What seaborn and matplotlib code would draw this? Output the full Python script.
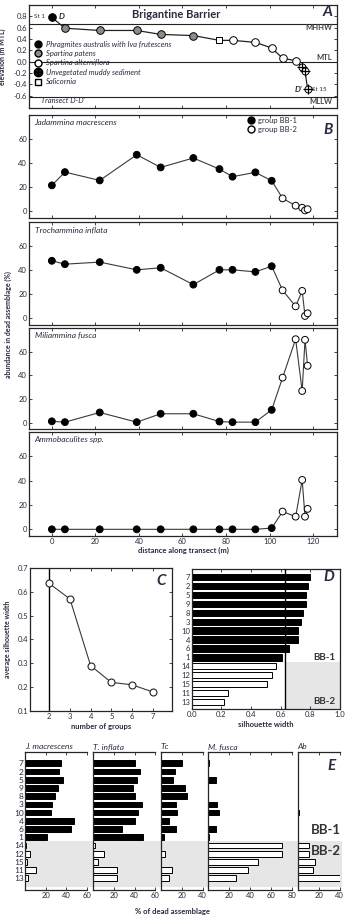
import numpy as np
import pandas as pd
import matplotlib
matplotlib.use("Agg")
import matplotlib.pyplot as plt
import seaborn as sns
from matplotlib.lines import Line2D
from matplotlib.patches import Rectangle

# ---------------- data ----------------
stations = list(range(1, 16))
distance = [0, 6, 22, 39, 50, 65, 77, 83, 93.5, 101, 106, 112, 115, 116.3, 117.5]
elevation = [0.78, 0.59, 0.55, 0.55, 0.48, 0.46, 0.375, 0.375, 0.34, 0.24,
             0.06, 0.015, -0.09, -0.16, -0.49]
vegetation = ["Phragmites", "patens", "patens", "patens", "patens", "patens",
              "Salicornia", "alterniflora", "alterniflora", "alterniflora",
              "alterniflora", "alterniflora", "mud", "mud", "mud"]
group = ["BB-1"] * 10 + ["BB-2"] * 5

j_macrescens = [21.6, 32.6, 25.7, 47, 36.5, 44.3, 35.1, 28.8, 32.4, 25.4, 10.8, 4.7, 3.0, 0.8, 1.8]
t_inflata = [47.8, 45, 46.7, 40.3, 42, 28, 40.3, 40.3, 38.6, 43.3, 23.3, 10, 22.8, 2.0, 4.2]
t_comprimata = [2.9, 13.3, 14.6, 8.1, 12, 14.6, 19.8, 25, 23.4, 15.9, 10.7, 4.2, 8.1, 0, 0]
m_fusca = [1, 0.3, 8.5, 0.3, 7.4, 7.4, 0.8, 0.3, 0.3, 10.7, 38, 70.5, 26.7, 70, 48]
ammobaculites = [0, 0, 0, 0, 0, 0, 0, 0, 0, 1, 14.6, 10.4, 40.6, 10.4, 16.8]

n_groups = [2, 3, 4, 5, 6, 7]
avg_silhouette = [0.635, 0.57, 0.29, 0.22, 0.21, 0.18]
silhouette = [0.607, 0.786, 0.737, 0.719, 0.771, 0.658, 0.80, 0.753, 0.771, 0.719,
              0.243, 0.539, 0.216, 0.566, 0.506]
row_order = [7, 2, 5, 9, 8, 3, 10, 4, 6, 1, 14, 12, 15, 11, 13]

tide_names = ["MHHW", "MTL", "MLLW"]
tide_levels = [0.67, 0.0, -0.62]

# ---------------- style ----------------
sns.set_style("ticks")
plt.rcParams["font.family"] = ["Lato", "DejaVu Sans"]
TXT = "#2a2a40"
GREY = "#e6e6e6"
W, H = 350, 922
fig = plt.figure(figsize=(W / 100, H / 100), dpi=100)


def add_ax(l, t, r, b):
    ax = fig.add_axes([l / W, 1 - b / H, (r - l) / W, (b - t) / H])
    ax.set_facecolor("none")
    return ax


def fx(px):
    return px / W


def fy(py):
    return 1 - py / H


def style(ax, top=True, right=True, left=True, bottom=True):
    ax.tick_params(direction="in", length=2.5, width=0.6, labelsize=5.5,
                   labelcolor=TXT, top=top, right=right, left=left, bottom=bottom, pad=1.5)
    for s in ax.spines.values():
        s.set_linewidth(0.9)
    ax.set_xlabel("")
    ax.set_ylabel("")


XL = (-10.5, 131)
xt = [0, 20, 40, 60, 80, 100, 120]

# ---------------- panel A ----------------
axA = add_ax(29, 5, 337, 108)
dfA = pd.DataFrame({"d": distance, "e": elevation, "v": vegetation})
for name, lvl in zip(tide_names, tide_levels):
    axA.axhline(lvl, color="#222222", lw=0.8, zorder=1)
sns.lineplot(data=dfA, x="d", y="e", ax=axA, color="#222222", lw=0.9, sort=False,
             estimator=None, zorder=2)
mstyle = {
    "Phragmites": dict(marker="o", facecolor="black", s=30),
    "patens": dict(marker="o", facecolor="#8c8c8c", s=30),
    "alterniflora": dict(marker="o", facecolor="white", s=30),
    "mud": dict(marker="o", facecolor="white", s=26),
    "Salicornia": dict(marker="s", facecolor="white", s=22),
}
for v, st in mstyle.items():
    sub = dfA[dfA["v"] == v]
    sns.scatterplot(data=sub, x="d", y="e", ax=axA, marker=st["marker"], s=st["s"],
                    color=st["facecolor"], edgecolor="black", linewidth=0.7, zorder=3,
                    legend=False)
sub = dfA[dfA["v"] == "mud"]
sns.scatterplot(data=sub, x="d", y="e", ax=axA, marker="+", s=55, color="black",
                linewidth=0.9, zorder=4, legend=False)
axA.set_xlim(*XL)
axA.set_ylim(-0.82, 1.0)
axA.set_yticks(np.arange(-0.6, 0.81, 0.2))
axA.set_yticklabels([f"{v:.1f}" for v in np.arange(-0.6, 0.81, 0.2)])
axA.set_xticks(xt)
axA.set_xticklabels([])
style(axA)
axA.text(57, 0.83, "Brigantine Barrier", ha="center", va="center", fontsize=8,
         fontweight="bold", color=TXT)
axA.text(0.985, 0.93, "A", transform=axA.transAxes, ha="right", va="center",
         fontsize=11, fontweight="bold", style="italic", color=TXT)
axA.text(0.985, 0.60, "MHHW", transform=axA.get_yaxis_transform(), ha="right", va="center",
         fontsize=5.5, fontweight="bold", color="#444444")
axA.text(0.985, 0.08, "MTL", transform=axA.get_yaxis_transform(), ha="right", va="center",
         fontsize=5.5, fontweight="bold", color="#444444")
axA.text(0.985, -0.71, "MLLW", transform=axA.get_yaxis_transform(), ha="right", va="center",
         fontsize=5.5, fontweight="bold", color="#444444")
axA.text(-5, -0.69, "Transect D-D'", ha="left", va="center", fontsize=5.5,
         style="italic", color=TXT)
axA.text(-3, 0.79, "St 1", ha="right", va="center", fontsize=4.5, color=TXT)
axA.text(3, 0.79, "D", ha="left", va="center", fontsize=6, style="italic",
         fontweight="bold", color=TXT)
axA.text(115, -0.49, "D'", ha="right", va="center", fontsize=6, style="italic",
         fontweight="bold", color=TXT)
axA.text(119.5, -0.49, "St 15", ha="left", va="center", fontsize=4.5, color=TXT)
handles = [
    Line2D([], [], ls="", marker="o", mfc="black", mec="black", ms=5),
    Line2D([], [], ls="", marker="o", mfc="#8c8c8c", mec="black", ms=5),
    Line2D([], [], ls="", marker="o", mfc="white", mec="black", ms=5),
    Line2D([], [], ls="", marker="$\\oplus$", color="black", ms=6),
    Line2D([], [], ls="", marker="s", mfc="white", mec="black", ms=4.5),
]
labels = ["Phragmites australis with Iva frutescens", "Spartina patens",
          "Spartina alterniflora", "Unvegetated muddy sediment", "Salicornia"]
leg = axA.legend(handles, labels, loc="upper left", bbox_to_anchor=(0.018, 0.655),
                 frameon=False, fontsize=5.5, handlelength=1.0, handletextpad=0.5,
                 labelspacing=0.32, borderpad=0, borderaxespad=0,
                 prop=dict(style="italic", size=5.5))
for t in leg.get_texts():
    t.set_color(TXT)
axA.text(-0.085, 0.5, "elevation (m MTL)", transform=axA.transAxes, rotation=90,
         ha="center", va="center", fontsize=5, fontweight="bold", color=TXT)

# ---------------- panels B (species vs distance) ----------------
panels = [
    (115, 218, j_macrescens, "Jadammina macrescens"),
    (222, 325, t_inflata, "Trochammina inflata"),
    (328, 429, m_fusca, "Miliammina fusca"),
    (432, 536, ammobaculites, "Ammobaculites spp."),
]
pal = {"BB-1": "black", "BB-2": "white"}
for i, (t, b, vals, name) in enumerate(panels):
    ax = add_ax(29, t, 337, b)
    df = pd.DataFrame({"d": distance, "v": vals, "g": group})
    sns.lineplot(data=df, x="d", y="v", ax=ax, color="#3a3a3a", lw=0.8, sort=False,
                 estimator=None, zorder=2)
    sns.scatterplot(data=df, x="d", y="v", hue="g", palette=pal, edgecolor="black",
                    linewidth=0.7, s=24, ax=ax, legend=False, zorder=3)
    ax.set_xlim(*XL)
    ax.set_ylim(-5.5, 80)
    ax.set_yticks([0, 20, 40, 60])
    ax.set_xticks(xt)
    style(ax)
    if i < 3:
        ax.set_xticklabels([])
    else:
        ax.set_xlabel("distance along transect (m)", fontsize=5.5, fontweight="bold",
                      color=TXT, labelpad=1)
    ax.text(0.018, 0.93, name, transform=ax.transAxes, ha="left", va="center",
            fontsize=6, style="italic", color=TXT)
    if i == 0:
        h = [Line2D([], [], ls="", marker="o", mfc="black", mec="black", ms=5),
             Line2D([], [], ls="", marker="o", mfc="white", mec="black", ms=5)]
        lg = ax.legend(h, ["group BB-1", "group BB-2"], loc="upper left",
                       bbox_to_anchor=(0.71, 0.98), frameon=False, fontsize=5.5,
                       handlelength=0.8, handletextpad=0.6, labelspacing=0.25,
                       borderpad=0, borderaxespad=0)
        for tt in lg.get_texts():
            tt.set_color(TXT)
        ax.text(0.985, 0.85, "B", transform=ax.transAxes, ha="right", va="center",
                fontsize=11, fontweight="bold", style="italic", color=TXT)

fig.text(fx(8), fy(325), "abundance in dead assemblage (%)", rotation=90, ha="center",
         va="center", fontsize=5, fontweight="bold", color=TXT)

# ---------------- panel C ----------------
axC = add_ax(30, 568, 172, 711)
axC.axvline(2, color="black", lw=1.0, zorder=1)
dfC = pd.DataFrame({"k": n_groups, "s": avg_silhouette})
sns.lineplot(data=dfC, x="k", y="s", ax=axC, color="#3a3a3a", lw=0.8, marker="o",
             markersize=5, markerfacecolor="white", markeredgecolor="#222222",
             markeredgewidth=0.8, zorder=3)
axC.set_xlim(1.07, 7.93)
axC.set_ylim(0.1, 0.7)
axC.set_xticks(n_groups)
axC.set_yticks([0.1, 0.2, 0.3, 0.4, 0.5, 0.6, 0.7])
style(axC)
axC.set_xlabel("number of groups", fontsize=5.5, fontweight="bold", color=TXT, labelpad=2)
axC.text(-0.16, 0.5, "average silhouette width", transform=axC.transAxes, rotation=90,
         ha="center", va="center", fontsize=5, fontweight="bold", color=TXT)
axC.text(0.96, 0.91, "C", transform=axC.transAxes, ha="right", va="center",
         fontsize=11, fontweight="bold", style="italic", color=TXT)

# ---------------- panel D ----------------
axD = add_ax(191.7, 569, 340, 709)
axD.add_patch(Rectangle((0.63, 9.5), 0.37, 6, color=GREY, zorder=0, lw=0))
dfD = pd.DataFrame({"st": [str(s) for s in row_order],
                    "v": [silhouette[s - 1] for s in row_order],
                    "g": [group[s - 1] for s in row_order]})
sns.barplot(data=dfD, x="v", y="st", hue="g", palette=pal, order=dfD["st"].tolist(),
            orient="h", dodge=False, width=0.72, edgecolor="black", linewidth=0.7,
            errorbar=None, ax=axD, legend=False, zorder=2)
axD.axvline(0.63, color="black", lw=1.0, zorder=3)
axD.set_xlim(0, 1)
axD.set_ylim(14.8, -0.93)
axD.set_xticks(np.arange(0, 1.01, 0.2))
axD.set_xticklabels([f"{v:.1f}" for v in np.arange(0, 1.01, 0.2)])
style(axD, right=False, left=False)
axD.tick_params(axis="y", labelsize=5.5, pad=1)
axD.set_xlabel("silhouette width", fontsize=5.5, fontweight="bold", color=TXT, labelpad=2)
axD.text(0.96, 0.94, "D", transform=axD.transAxes, ha="right", va="center",
         fontsize=11, fontweight="bold", style="italic", color=TXT)
axD.text(0.97, 9.0, "BB-1", transform=axD.get_yaxis_transform(), ha="right", va="center",
         fontsize=7, fontweight="bold", color="#333333")
axD.text(0.97, 14.0, "BB-2", transform=axD.get_yaxis_transform(), ha="right", va="center",
         fontsize=7, fontweight="bold", color="#333333")

# ---------------- panel E ----------------
fig.add_artist(Rectangle((fx(25), fy(887)), fx(341.7) - fx(25), fy(841.2) - fy(887),
                         transform=fig.transFigure, color=GREY, lw=0, zorder=-1))
e_specs = [
    (25, 87, j_macrescens, 60, [20, 40, 60], "J. macrescens"),
    (93.3, 155.3, t_inflata, 60, [20, 40, 60], "T. inflata"),
    (161, 202.5, t_comprimata, 40, [20, 40], "Tc"),
    (207.7, 292.3, m_fusca, 80, [20, 40, 60, 80], "M. fusca"),
    (297.7, 339.7, ammobaculites, 40, [20, 40], "Ab"),
]
for j, (l, r, vals, xmax, ticks, name) in enumerate(e_specs):
    ax = add_ax(l, 752, r, 890)
    dfE = pd.DataFrame({"st": [str(s) for s in row_order],
                        "v": [vals[s - 1] for s in row_order],
                        "g": [group[s - 1] for s in row_order]})
    sns.barplot(data=dfE, x="v", y="st", hue="g", palette=pal, order=dfE["st"].tolist(),
                orient="h", dodge=False, width=0.7, edgecolor="black", linewidth=0.7,
                errorbar=None, ax=ax, legend=False, zorder=2)
    ax.set_xlim(0, xmax)
    ax.set_ylim(15.43, -1.38)
    ax.set_xticks(ticks)
    ax.spines["right"].set_visible(False)
    style(ax, right=False, left=False)
    if j > 0:
        ax.set_yticklabels([])
    else:
        ax.tick_params(axis="y", labelsize=6, pad=1)
    ax.set_title(name, loc="left", fontsize=6, style="italic", color=TXT, pad=2)
fig.text(fx(336), fy(766), "E", ha="right", va="center", fontsize=11,
         fontweight="bold", style="italic", color=TXT)
fig.text(fx(341), fy(830), "BB-1", ha="right", va="center", fontsize=9.5,
         fontweight="bold", color="#333333")
fig.text(fx(341), fy(851), "BB-2", ha="right", va="center", fontsize=9.5,
         fontweight="bold", color="#333333")
fig.text(fx(172), fy(911), "% of dead assemblage", ha="center", va="center",
         fontsize=5.5, fontweight="bold", color=TXT)

fig.savefig("out.png", dpi=100)
